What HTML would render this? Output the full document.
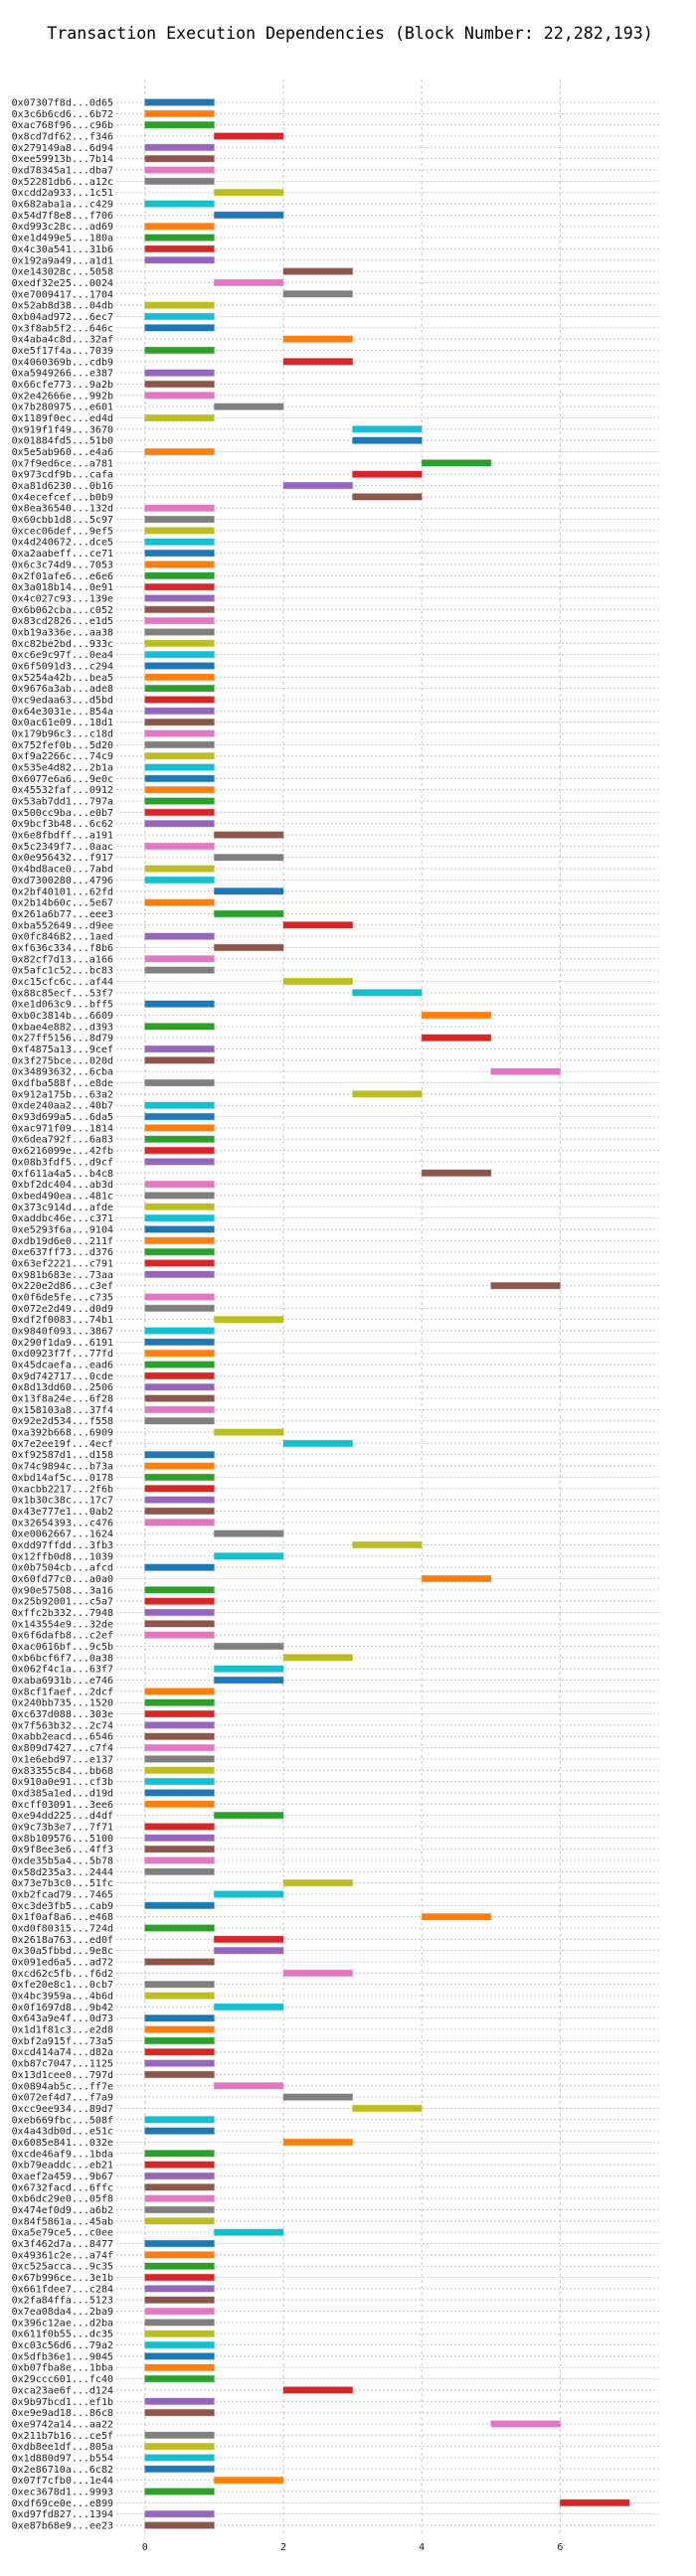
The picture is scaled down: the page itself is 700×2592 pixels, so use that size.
<!DOCTYPE html>
<html><head><meta charset="utf-8">
<style>
html,body{margin:0;padding:0;background:#fff;}
svg{display:block;}
text{font-family:"DejaVu Sans Mono","Liberation Mono",monospace;}
</style></head>
<body>
<svg id="chart" width="700" height="2592" viewBox="0 0 700 2592" xmlns="http://www.w3.org/2000/svg">
<text x="352" y="39" text-anchor="middle" font-size="16.6" fill="#000">Transaction Execution Dependencies (Block Number: 22,282,193)</text>
<g id="grid"></g>
<g id="bars"></g>
<g id="ylabels"></g>
<g id="xticks"></g>
</svg>
<script>
const txHashes = ["0x07307f8d...0d65","0x3c6b6cd6...6b72","0xac768f96...c96b","0x8cd7df62...f346","0x279149a8...6d94","0xee59913b...7b14","0xd78345a1...dba7","0x52281db6...a12c","0xcdd2a933...1c51","0x682aba1a...c429","0x54d7f8e8...f706","0xd993c28c...ad69","0xe1d499e5...180a","0x4c30a541...31b6","0x192a9a49...a1d1","0xe143028c...5058","0xedf32e25...0024","0xe7009417...1704","0x52ab8d38...04db","0xb04ad972...6ec7","0x3f8ab5f2...646c","0x4aba4c8d...32af","0xe5f17f4a...7039","0x4060369b...cdb9","0xa5949266...e387","0x66cfe773...9a2b","0x2e42666e...992b","0x7b280975...e601","0x1189f0ec...ed4d","0x919f1f49...3670","0x01884fd5...51b0","0x5e5ab960...e4a6","0x7f9ed6ce...a781","0x973cdf9b...cafa","0xa81d6230...0b16","0x4ecefcef...b0b9","0x8ea36540...132d","0x60cbb1d8...5c97","0xcec06def...9ef5",
"0x4d240672...dce5","0xa2aabeff...ce71","0x6c3c74d9...7053","0x2f01afe6...e6e6","0x3a018b14...0e91","0x4c027c93...139e","0x6b062cba...c052","0x83cd2826...e1d5","0xb19a336e...aa38","0xc82be2bd...933c","0xc6e9c97f...0ea4","0x6f5091d3...c294","0x5254a42b...bea5","0x9676a3ab...ade8","0xc9edaa63...d5bd","0x64e3031e...854a","0x0ac61e09...18d1","0x179b96c3...c18d",
"0x752fef0b...5d20","0xf9a2266c...74c9","0x535e4d82...2b1a","0x6077e6a6...9e0c","0x45532faf...0912","0x53ab7dd1...797a","0x500cc9ba...e0b7","0x9bcf3b48...6c62","0x6e8fbdff...a191","0x5c2349f7...0aac","0x0e956432...f917","0x4bd8ace0...7abd","0xd7300280...4796","0x2bf40101...62fd","0x2b14b60c...5e67","0x261a6b77...eee3","0xba552649...d9ee","0x0fc84682...1aed",
"0xf636c334...f8b6","0x82cf7d13...a166","0x5afc1c52...bc83","0xc15cfc6c...af44","0x88c85ecf...53f7","0xe1d063c9...bff5","0xb0c3814b...6609","0xbae4e882...d393","0x27ff5156...8d79","0xf4875a13...9cef","0x3f275bce...020d","0x34893632...6cba","0xdfba588f...e8de","0x912a175b...63a2","0xde240aa2...40b7","0x93d699a5...6da5","0xac971f09...1814","0x6dea792f...6a83",
"0x6216099e...42fb","0x08b3fdf5...d9cf","0xf611a4a5...b4c8","0xbf2dc404...ab3d","0xbed490ea...481c","0x373c914d...afde","0xaddbc46e...c371","0xe5293f6a...9104","0xdb19d6e0...211f","0xe637ff73...d376","0x63ef2221...c791","0x981b683e...73aa","0x220e2d86...c3ef","0x0f6de5fe...c735","0x072e2d49...d0d9","0xdf2f0083...74b1","0x9840f093...3867","0x290f1da9...6191",
"0xd0923f7f...77fd","0x45dcaefa...ead6","0x9d742717...0cde","0x8d13dd60...2506","0x13f8a24e...6f28","0x158103a8...37f4","0x92e2d534...f558","0xa392b668...6909","0x7e2ee19f...4ecf","0xf92587d1...d158","0x74c9894c...b73a","0xbd14af5c...0178","0xacbb2217...2f6b","0x1b30c38c...17c7","0x43e777e1...0ab2","0x32654393...c476","0xe0062667...1624","0xdd97ffdd...3fb3",
"0x12ffb0d8...1039","0x0b7504cb...afcd","0x60fd77c0...a0a0","0x90e57508...3a16","0x25b92001...c5a7","0xffc2b332...7948","0x143554e9...32de","0x6f6dafb8...c2ef","0xac0616bf...9c5b","0xb6bcf6f7...0a38","0x062f4c1a...63f7","0xaba6931b...e746","0x8cf1faef...2dcf","0x240bb735...1520","0xc637d088...303e","0x7f563b32...2c74","0xabb2eacd...6546","0x809d7427...c7f4",
"0x1e6ebd97...e137","0x83355c84...bb68","0x910a0e91...cf3b","0xd385a1ed...d19d","0xcff03091...3ee6","0xe94dd225...d4df","0x9c73b3e7...7f71","0x8b109576...5100","0x9f8ee3e6...4ff3","0xde35b5a4...5b78","0x58d235a3...2444","0x73e7b3c0...51fc","0xb2fcad79...7465","0xc3de3fb5...cab9","0x1f0af8a6...e468","0xd0f80315...724d","0x2618a763...ed0f","0x30a5fbbd...9e8c",
"0x091ed6a5...ad72","0xcd62c5fb...f6d2","0xfe20e8c1...0cb7","0x4bc3959a...4b6d","0x0f1697d8...9b42","0x643a9e4f...0d73","0x1d1f81c3...e2d8","0xbf2a915f...73a5","0xcd414a74...d82a","0xb87c7047...1125","0x13d1cee0...797d","0x0894ab5c...ff7e","0x072ef4d7...f7a9","0xcc9ee934...89d7","0xeb669fbc...508f","0x4a43db0d...e51c","0x6085e841...032e","0xcde46af9...1bda",
"0xb79eaddc...eb21","0xaef2a459...9b67","0x6732facd...6ffc","0xb6dc29e0...05f8","0x474ef0d9...a6b2","0x84f5861a...45ab","0xa5e79ce5...c0ee","0x3f462d7a...8477","0x49361c2e...a74f","0xc525acca...9c35","0x67b996ce...3e1b","0x661fdee7...c284","0x2fa84ffa...5123","0x7ea08da4...2ba9","0x396c12ae...d2ba","0x611f0b55...dc35","0xc03c56d6...79a2","0x5dfb36e1...9045",
"0xb07fba8e...1bba","0x29ccc601...fc40","0xca23ae6f...d124","0x9b97bcd1...ef1b","0xe9e9ad18...86c8","0xe9742a14...aa22","0x211b7b16...ce5f","0xdb8ee1df...805a","0x1d880d97...b554","0x2e86710a...6c82","0x07f7cfb0...1e44","0xec3678d1...9993","0xdf69ce0e...e899","0xd97fd827...1394","0xe87b68e9...ee23"];
const startTimes = [0,0,0,1,0,0,0,0,1,0,1,0,0,0,0,2,1,2,0,0,0,2,0,2,0,0,0,1,0,3,3,0,4,3,2,3,0,0,0,
0,0,0,0,0,0,0,0,0,0,0,0,0,0,0,0,0,0,
0,0,0,0,0,0,0,0,1,0,1,0,0,1,0,1,2,0,
1,0,0,2,3,0,4,0,4,0,0,5,0,3,0,0,0,0,
0,0,4,0,0,0,0,0,0,0,0,0,5,0,0,1,0,0,
0,0,0,0,0,0,0,1,2,0,0,0,0,0,0,0,1,3,
1,0,4,0,0,0,0,0,1,2,1,1,0,0,0,0,0,0,
0,0,0,0,0,1,0,0,0,0,0,2,1,0,4,0,1,1,
0,2,0,0,1,0,0,0,0,0,0,1,2,3,0,0,2,0,
0,0,0,0,0,0,1,0,0,0,0,0,0,0,0,0,0,0,
0,0,2,0,0,5,0,0,0,0,1,0,6,0,0];
const durations = txHashes.map(() => 1);
const xTicks = [0,2,4,6];
const palette = ["#1f77b4","#ff7f0e","#2ca02c","#d62728","#9467bd","#8c564b","#e377c2","#7f7f7f","#bcbd22","#17becf"];

const NS = "http://www.w3.org/2000/svg";
const X0 = 145.8, XU = 69.6, Y0 = 103, YU = (2541 - 103) / 215;
const plotL = 117, plotR = 662, plotT = 80, plotB = 2550;
function xs(v){ return X0 + v * XU; }
function ys(i){ return Y0 + i * YU; }
function mk(tag, attrs, parent){
  const e = document.createElementNS(NS, tag);
  for (const k in attrs) e.setAttribute(k, attrs[k]);
  parent.appendChild(e);
  return e;
}
const grid = document.getElementById('grid');
const bars = document.getElementById('bars');
const ylab = document.getElementById('ylabels');
const xt = document.getElementById('xticks');

txHashes.forEach((h, i) => {
  const y = ys(i);
  const gl = mk('line', {x1: plotL, x2: plotR, y1: y, y2: y, stroke: '#c8c8c8', 'stroke-width': 1, 'stroke-dasharray': '2,2'}, grid);
  
  
  const t = mk('text', {x: 114, y: y + 3.5, 'text-anchor': 'end', 'font-size': 10, fill: '#222'}, ylab);
  t.textContent = h;
  
  
});
xTicks.forEach(v => {
  const x = xs(v);
  const vl = mk('line', {x1: x, x2: x, y1: plotT, y2: plotB, stroke: '#c8c8c8', 'stroke-width': 1, 'stroke-dasharray': '3,3'}, grid);
  
  
  const t = mk('text', {x: x, y: 2566, 'text-anchor': 'middle', 'font-size': 10, fill: '#222'}, xt);
  t.textContent = String(v);
  
  
});
txHashes.forEach((h, i) => {
  const s = startTimes[i], d = durations[i];
  const r = mk('rect', {x: xs(s), y: ys(i) - 3.2, width: xs(s + d) - xs(s), height: 6.4, fill: palette[i % 10], stroke: palette[i % 10], 'stroke-opacity': 0.4, 'stroke-width': 1}, bars);
  
  
});
</script>
</body></html>
